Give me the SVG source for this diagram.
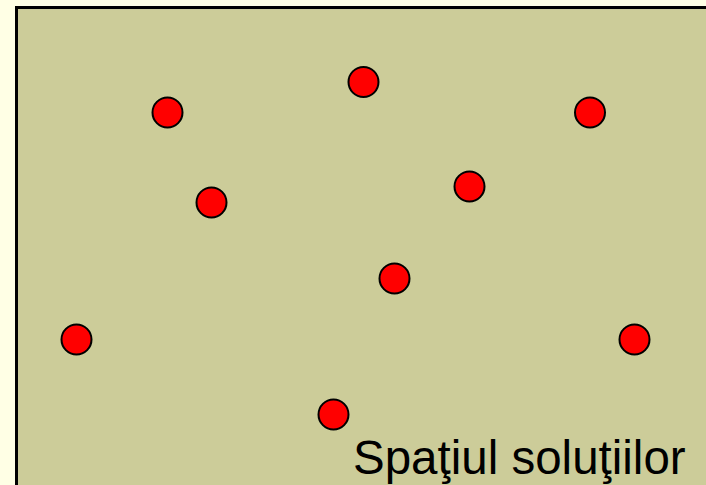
<svg xmlns="http://www.w3.org/2000/svg" width="706" height="485" viewBox="0 0 706 485">
<style>
.pt{fill:#FF0000;stroke:#000;stroke-width:2}
.lbl{font-family:"Liberation Sans",Arial,sans-serif;font-size:47.5px;fill:#000}
</style>
<rect x="0" y="0" width="706" height="485" fill="#FFFFE5"/>
<rect id="space" x="16.5" y="7.5" width="700" height="490" fill="#CCCC99" stroke="#000" stroke-width="3"/>
<g id="p1"><circle class="pt" cx="167.5" cy="112.5" r="15"/></g>
<g id="p2"><circle class="pt" cx="363.5" cy="82" r="15"/></g>
<g id="p3"><circle class="pt" cx="590" cy="112.5" r="15"/></g>
<g id="p4"><circle class="pt" cx="211.5" cy="202.5" r="15"/></g>
<g id="p5"><circle class="pt" cx="469.5" cy="186.5" r="15"/></g>
<g id="p6"><circle class="pt" cx="394.5" cy="278.5" r="15"/></g>
<g id="p7"><circle class="pt" cx="76.5" cy="339.5" r="15"/></g>
<g id="p8"><circle class="pt" cx="634.5" cy="339.5" r="15"/></g>
<g id="p9"><circle class="pt" cx="333.5" cy="414.5" r="15"/></g>
<g id="connectors"></g>
<text class="lbl" x="353" y="474">Spaţiul soluţiilor</text>
</svg>
